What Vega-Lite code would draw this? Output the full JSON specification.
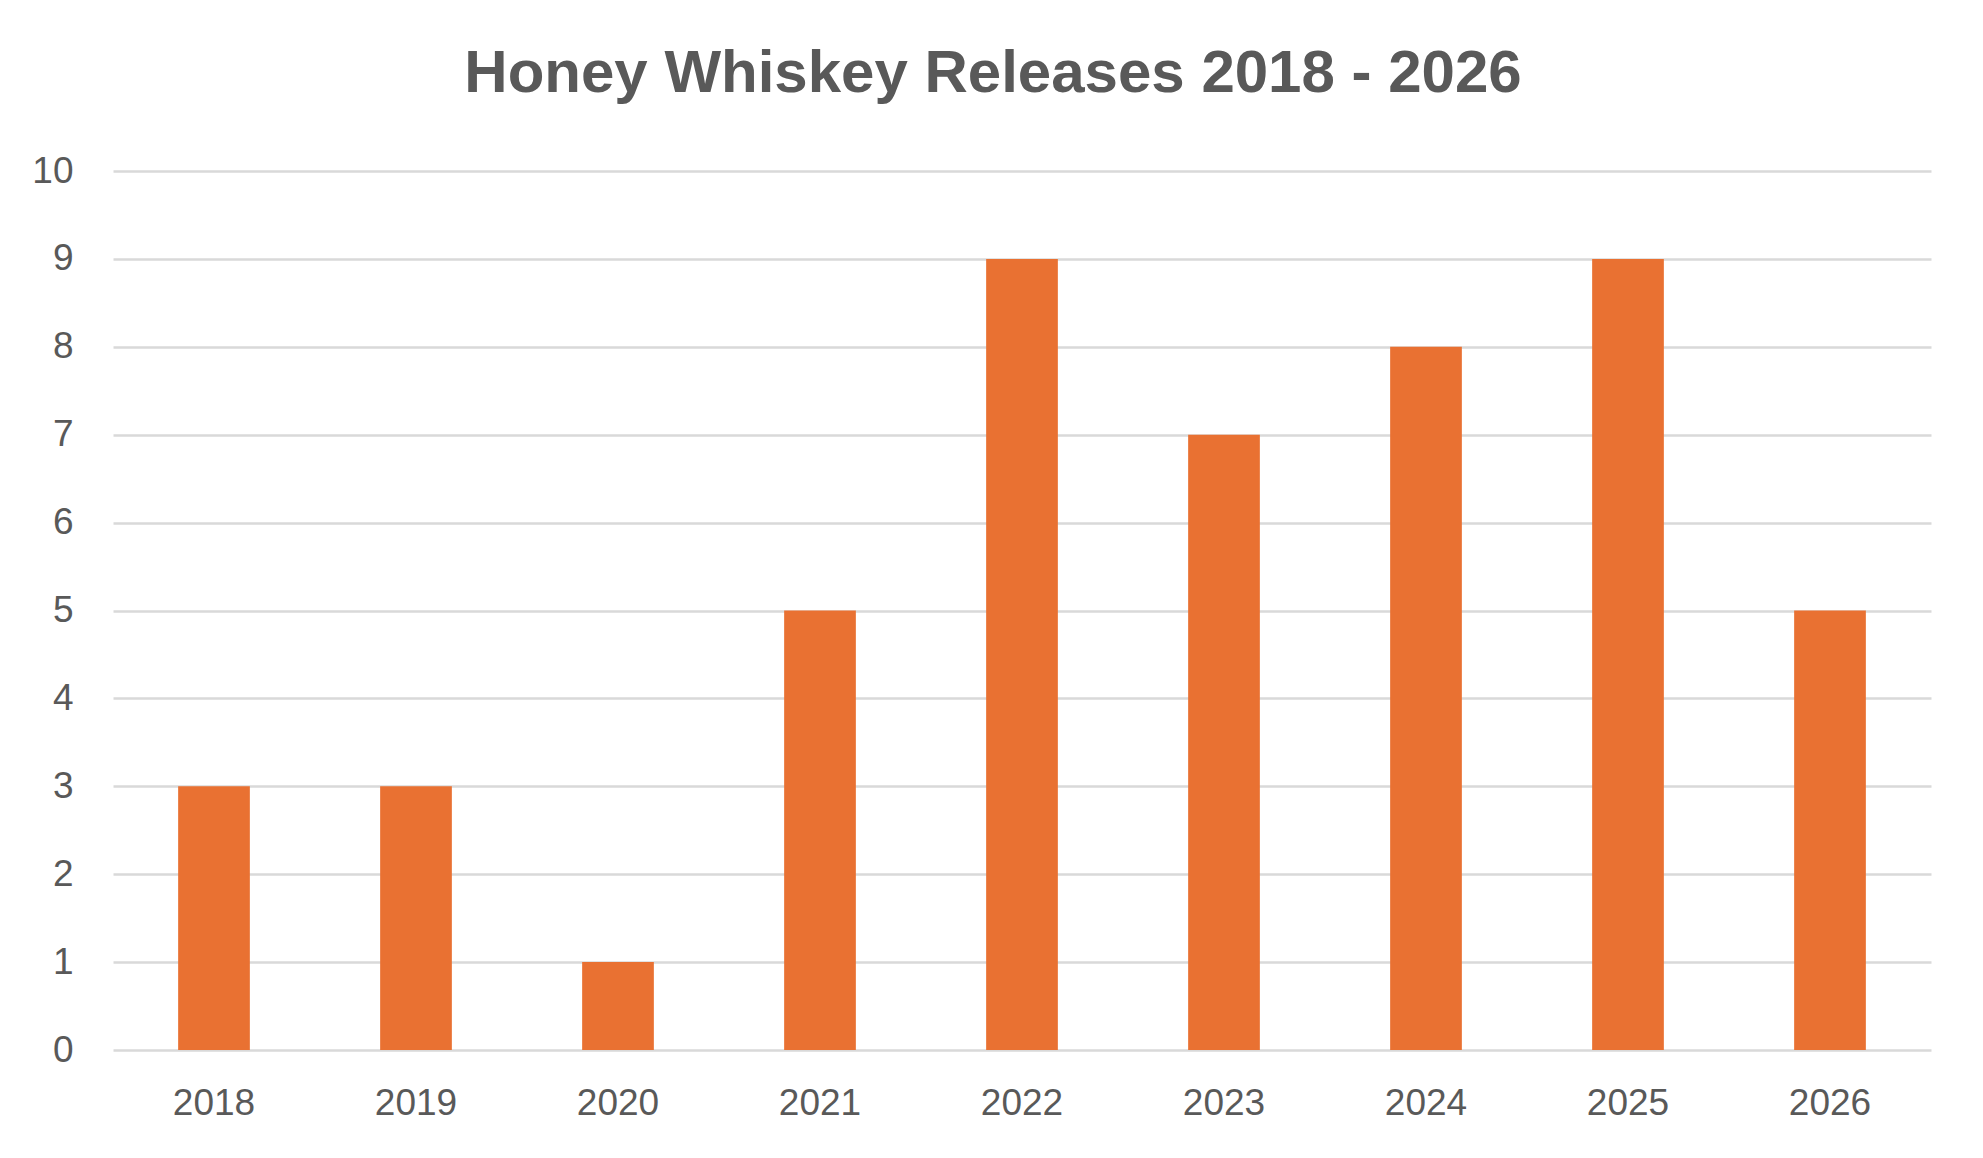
{
  "$schema": "https://vega.github.io/schema/vega-lite/v6.json",
  "autosize": {"type": "none"},
  "padding": {"left": 113, "top": 171, "right": 52, "bottom": 108},
  "width": 1818,
  "height": 879,
  "background": "white",
  "title": {
    "text": "Honey Whiskey Releases 2018 - 2026",
    "font": "Liberation Sans",
    "fontSize": 60,
    "fontWeight": "bold",
    "color": "#595959",
    "anchor": "middle",
    "offset": 47,
    "dx": -29
  },
  "data": {
    "values": [
      {"year": "2018", "releases": 3},
      {"year": "2019", "releases": 3},
      {"year": "2020", "releases": 1},
      {"year": "2021", "releases": 5},
      {"year": "2022", "releases": 9},
      {"year": "2023", "releases": 7},
      {"year": "2024", "releases": 8},
      {"year": "2025", "releases": 9},
      {"year": "2026", "releases": 5}
    ]
  },
  "mark": {"type": "bar", "color": "#E97132"},
  "encoding": {
    "x": {
      "field": "year",
      "type": "nominal",
      "sort": null,
      "scale": {"paddingInner": 0.645, "paddingOuter": 0.3225},
      "axis": {
        "title": null,
        "labelAngle": 0,
        "labelFont": "Liberation Sans",
        "labelFontSize": 37,
        "labelColor": "#595959",
        "labelPadding": 35,
        "labelBaseline": "top",
        "ticks": false,
        "domain": false,
        "grid": false
      }
    },
    "y": {
      "field": "releases",
      "type": "quantitative",
      "scale": {"domain": [0, 10], "nice": false},
      "axis": {
        "title": null,
        "values": [0, 1, 2, 3, 4, 5, 6, 7, 8, 9, 10],
        "labelFont": "Liberation Sans",
        "labelFontSize": 37,
        "labelColor": "#595959",
        "labelPadding": 40,
        "ticks": false,
        "domain": false,
        "grid": true,
        "gridColor": "#d9d9d9",
        "gridWidth": 2.5
      }
    }
  },
  "config": {"view": {"stroke": null}}
}
